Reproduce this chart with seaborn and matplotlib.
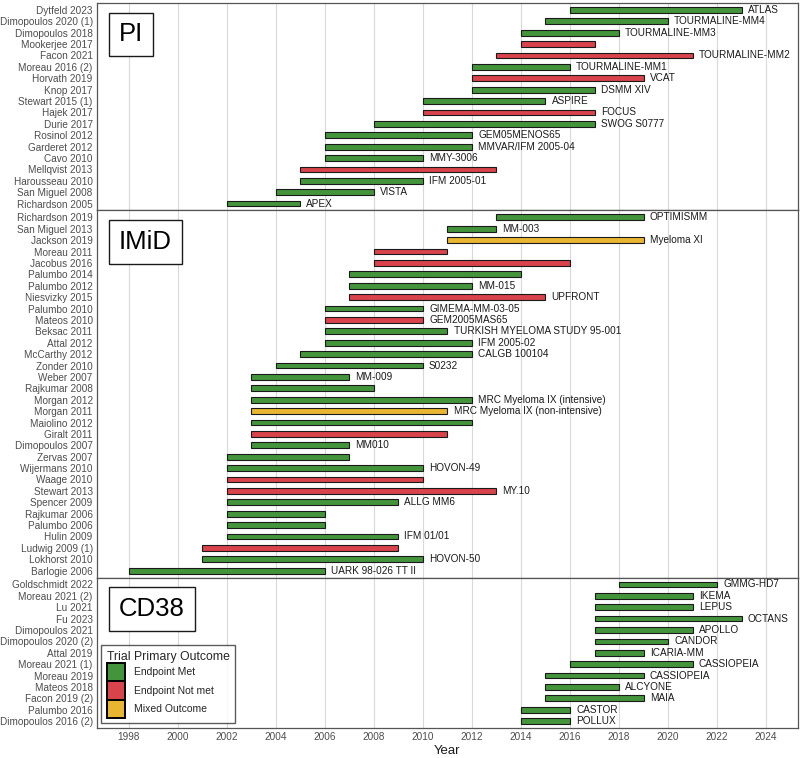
import matplotlib
matplotlib.use("Agg")
import matplotlib.pyplot as plt
from matplotlib.patches import Patch
import seaborn as sns
import pandas as pd

# ---------------- data ----------------
pi_trials = ["Dytfeld 2023", "Dimopoulos 2020 (1)", "Dimopoulos 2018", "Mookerjee 2017",
             "Facon 2021", "Moreau 2016 (2)", "Horvath 2019", "Knop 2017", "Stewart 2015 (1)",
             "Hajek 2017", "Durie 2017", "Rosinol 2012", "Garderet 2012", "Cavo 2010",
             "Mellqvist 2013", "Harousseau 2010", "San Miguel 2008", "Richardson 2005"]
pi_start = [2016, 2015, 2014, 2014, 2013, 2012, 2012, 2012, 2010, 2010, 2008, 2006, 2006, 2006,
            2005, 2005, 2004, 2002]
pi_end = [2023, 2020, 2018, 2017, 2021, 2016, 2019, 2017, 2015, 2017, 2017, 2012, 2012, 2010,
          2013, 2010, 2008, 2005]
pi_outcome = ["Met", "Met", "Met", "Not", "Not", "Met", "Not", "Met", "Met", "Not", "Met", "Met",
              "Met", "Met", "Not", "Met", "Met", "Met"]
pi_names = ["ATLAS", "TOURMALINE-MM4", "TOURMALINE-MM3", "", "TOURMALINE-MM2", "TOURMALINE-MM1",
            "VCAT", "DSMM XIV", "ASPIRE", "FOCUS", "SWOG S0777", "GEM05MENOS65",
            "MMVAR/IFM 2005-04", "MMY-3006", "", "IFM 2005-01", "VISTA", "APEX"]

imid_trials = ["Richardson 2019", "San Miguel 2013", "Jackson 2019", "Moreau 2011", "Jacobus 2016",
               "Palumbo 2014", "Palumbo 2012", "Niesvizky 2015", "Palumbo 2010", "Mateos 2010",
               "Beksac 2011", "Attal 2012", "McCarthy 2012", "Zonder 2010", "Weber 2007",
               "Rajkumar 2008", "Morgan 2012", "Morgan 2011", "Maiolino 2012", "Giralt 2011",
               "Dimopoulos 2007", "Zervas 2007", "Wijermans 2010", "Waage 2010", "Stewart 2013",
               "Spencer 2009", "Rajkumar 2006", "Palumbo 2006", "Hulin 2009", "Ludwig 2009 (1)",
               "Lokhorst 2010", "Barlogie 2006"]
imid_start = [2013, 2011, 2011, 2008, 2008, 2007, 2007, 2007, 2006, 2006, 2006, 2006, 2005, 2004,
              2003, 2003, 2003, 2003, 2003, 2003, 2003, 2002, 2002, 2002, 2002, 2002, 2002, 2002,
              2002, 2001, 2001, 1998]
imid_end = [2019, 2013, 2019, 2011, 2016, 2014, 2012, 2015, 2010, 2010, 2011, 2012, 2012, 2010,
            2007, 2008, 2012, 2011, 2012, 2011, 2007, 2007, 2010, 2010, 2013, 2009, 2006, 2006,
            2009, 2009, 2010, 2006]
imid_outcome = ["Met", "Met", "Mixed", "Not", "Not", "Met", "Met", "Not", "Met", "Not", "Met", "Met",
                "Met", "Met", "Met", "Met", "Met", "Mixed", "Met", "Not", "Met", "Met", "Met", "Not",
                "Not", "Met", "Met", "Met", "Met", "Not", "Met", "Met"]
imid_names = ["OPTIMISMM", "MM-003", "Myeloma XI", "", "", "", "MM-015", "UPFRONT",
              "GIMEMA-MM-03-05", "GEM2005MAS65", "TURKISH MYELOMA STUDY 95-001", "IFM 2005-02",
              "CALGB 100104", "S0232", "MM-009", "", "MRC Myeloma IX (intensive)",
              "MRC Myeloma IX (non-intensive)", "", "", "MM010", "", "HOVON-49", "", "MY.10",
              "ALLG MM6", "", "", "IFM 01/01", "", "HOVON-50", "UARK 98-026 TT II"]

cd38_trials = ["Goldschmidt 2022", "Moreau 2021 (2)", "Lu 2021", "Fu 2023", "Dimopoulos 2021",
               "Dimopoulos 2020 (2)", "Attal 2019", "Moreau 2021 (1)", "Moreau 2019", "Mateos 2018",
               "Facon 2019 (2)", "Palumbo 2016", "Dimopoulos 2016 (2)"]
cd38_start = [2018, 2017, 2017, 2017, 2017, 2017, 2017, 2016, 2015, 2015, 2015, 2014, 2014]
cd38_end = [2022, 2021, 2021, 2023, 2021, 2020, 2019, 2021, 2019, 2018, 2019, 2016, 2016]
cd38_outcome = ["Met"] * 13
cd38_names = ["GMMG-HD7", "IKEMA", "LEPUS", "OCTANS", "APOLLO", "CANDOR", "ICARIA-MM",
              "CASSIOPEIA", "CASSIOPEIA", "ALCYONE", "MAIA", "CASTOR", "POLLUX"]

panel_labels = ["PI", "IMiD", "CD38"]
outcome_labels = {"Met": "Endpoint Met", "Not": "Endpoint Not met", "Mixed": "Mixed Outcome"}
x_ticks = list(range(1998, 2025, 2))

# ---------------- style ----------------
sns.set_theme(style="whitegrid")
plt.rcParams["font.family"] = ["Liberation Sans", "DejaVu Sans"]
palette = {"Met": "#44943b", "Not": "#d9434b", "Mixed": "#e8b630"}

panels = [
    pd.DataFrame({"trial": pi_trials, "start": pi_start, "end": pi_end,
                  "outcome": pi_outcome, "name": pi_names}),
    pd.DataFrame({"trial": imid_trials, "start": imid_start, "end": imid_end,
                  "outcome": imid_outcome, "name": imid_names}),
    pd.DataFrame({"trial": cd38_trials, "start": cd38_start, "end": cd38_end,
                  "outcome": cd38_outcome, "name": cd38_names}),
]

fig = plt.figure(figsize=(8, 7.58), dpi=100)
gs = fig.add_gridspec(3, 1, height_ratios=[len(d) + 0.2 for d in panels], hspace=0,
                      left=0.121, right=0.9975, top=0.996, bottom=0.0396)

axes = []
for i, (df, plabel) in enumerate(zip(panels, panel_labels)):
    ax = fig.add_subplot(gs[i])
    axes.append(ax)
    n = len(df)
    ypos = list(range(n))
    colors = [palette[o] for o in df["outcome"]]
    ax.barh(ypos, df["end"] - df["start"], left=df["start"], height=0.5,
            color=colors, edgecolor="#1a1a1a", linewidth=0.8, zorder=3)
    for y, e, nm in zip(ypos, df["end"], df["name"]):
        if nm:
            ax.text(e + 0.25, y, nm, va="center", ha="left", fontsize=7.2,
                    color="#1a1a1a", zorder=4)
    ax.set_yticks(ypos)
    ax.set_yticklabels(df["trial"], fontsize=7.2, color="#4d4d4d")
    ax.set_ylim(n - 1 + 0.6, -0.6)
    ax.set_xlim(1996.7, 2025.3)
    ax.set_xticks(x_ticks)
    ax.grid(axis="y", visible=False)
    ax.grid(axis="x", color="#d9d9d9", linewidth=0.8)
    ax.tick_params(axis="y", length=0, pad=3)
    for sp in ax.spines.values():
        sp.set_color("#555555")
        sp.set_linewidth(0.9)
    if i < 2:
        ax.tick_params(axis="x", labelbottom=False, length=0)
    else:
        ax.tick_params(axis="x", labelsize=7.2, colors="#4d4d4d", length=0, pad=3)
        ax.set_xlabel("Year", fontsize=9.5, color="#1a1a1a", labelpad=2)
    ax.annotate(plabel, xy=(0, 1), xycoords="axes fraction", xytext=(16, -14),
                textcoords="offset points", ha="left", va="top", fontsize=18.5,
                color="black",
                bbox=dict(boxstyle="square,pad=0.38", fc="white", ec="#1a1a1a", lw=1.0),
                zorder=6)

handles = [Patch(facecolor=palette[k], edgecolor="black", linewidth=1.4, label=v)
           for k, v in outcome_labels.items()]
leg = axes[2].legend(handles=handles, title="Trial Primary Outcome", loc="lower left",
                     fontsize=7.5, title_fontsize=8.8, frameon=True, fancybox=False,
                     handlelength=1.75, handleheight=2.35, labelspacing=0.0,
                     borderaxespad=0.45, handletextpad=0.9, borderpad=0.5)
leg.get_frame().set_edgecolor("#333333")
leg.get_frame().set_linewidth(1.0)
leg.set_zorder(7)
leg._legend_box.align = "left"

fig.savefig("out.png", dpi=100)
